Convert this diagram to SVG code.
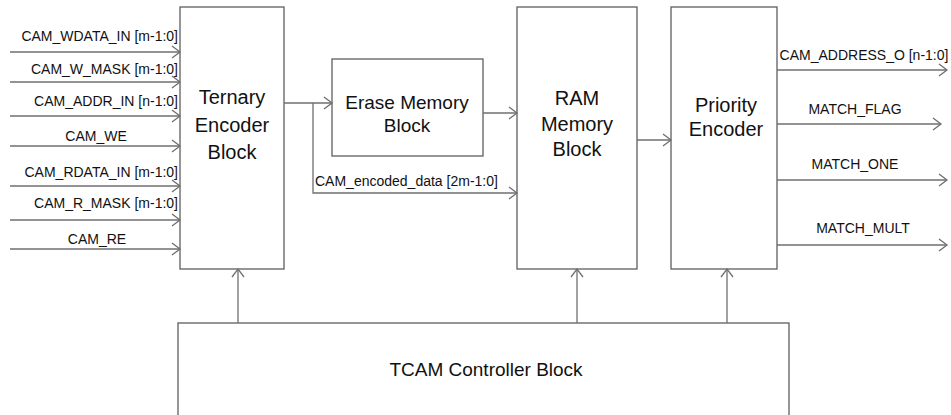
<svg xmlns="http://www.w3.org/2000/svg" width="951" height="415" viewBox="0 0 951 415">
  <style>
    .box { fill: #ffffff; stroke: #5f5f5f; stroke-width: 1.3; }
    .wire { fill: none; stroke: #6f6f6f; stroke-width: 1.3; }
    .arr { marker-end: url(#open); }
    .sig { font-family: "Liberation Sans", Arial, sans-serif; font-size: 14px; fill: #111111; }
    .big { font-family: "Liberation Sans", Arial, sans-serif; font-size: 20px; fill: #111111; text-anchor: middle; }
    .end { text-anchor: end; }
    .mid { text-anchor: middle; }
  </style>
  <defs>
    <marker id="open" viewBox="-10 -8 12 16" refX="0" refY="0" markerWidth="12" markerHeight="16" markerUnits="userSpaceOnUse" orient="auto">
      <path d="M -8,-6 L 0,0 L -8,6" fill="none" stroke="#6f6f6f" stroke-width="1.3"/>
    </marker>
  </defs>
  <rect width="951" height="415" fill="#ffffff"/>

  <g id="ternary-encoder">
    <rect class="box" x="180" y="7" width="104" height="262"/>
    <text class="big" x="232" y="104">Ternary</text>
    <text class="big" x="232" y="132">Encoder</text>
    <text class="big" x="232" y="159">Block</text>
  </g>

  <g id="erase-memory">
    <rect class="box" x="332" y="59" width="151" height="97"/>
    <text class="big" x="407" y="109" style="font-size:19px">Erase Memory</text>
    <text class="big" x="407" y="132" style="font-size:19px">Block</text>
  </g>

  <g id="ram-memory">
    <rect class="box" x="517" y="7" width="120" height="262"/>
    <text class="big" x="577" y="105">RAM</text>
    <text class="big" x="577" y="131">Memory</text>
    <text class="big" x="577" y="156">Block</text>
  </g>

  <g id="priority-encoder">
    <rect class="box" x="671" y="7" width="106" height="262"/>
    <text class="big" x="726" y="112">Priority</text>
    <text class="big" x="726" y="136">Encoder</text>
  </g>

  <g id="tcam-controller">
    <rect class="box" x="178" y="323" width="611" height="120"/>
    <text class="big" x="486" y="376" style="font-size:19px">TCAM Controller Block</text>
  </g>

  <g id="connectors">
    <!-- inputs to the ternary encoder -->
    <line class="wire arr" x1="10" y1="52" x2="180" y2="52"/>
    <line class="wire arr" x1="10" y1="82" x2="180" y2="82"/>
    <line class="wire arr" x1="10" y1="116" x2="180" y2="116"/>
    <line class="wire arr" x1="10" y1="146" x2="180" y2="146"/>
    <line class="wire arr" x1="10" y1="186" x2="180" y2="186"/>
    <line class="wire arr" x1="10" y1="220" x2="180" y2="220"/>
    <line class="wire arr" x1="10" y1="249" x2="180" y2="249"/>
    <text class="sig end" x="178" y="41">CAM_WDATA_IN [m-1:0]</text>
    <text class="sig end" x="178" y="74">CAM_W_MASK [m-1:0]</text>
    <text class="sig end" x="178" y="106">CAM_ADDR_IN [n-1:0]</text>
    <text class="sig mid" x="96" y="141">CAM_WE</text>
    <text class="sig end" x="178" y="177">CAM_RDATA_IN [m-1:0]</text>
    <text class="sig end" x="178" y="208">CAM_R_MASK [m-1:0]</text>
    <text class="sig mid" x="97" y="244">CAM_RE</text>

    <!-- encoded data path -->
    <line class="wire arr" x1="284" y1="103" x2="332" y2="103"/>
    <polyline class="wire arr" points="313,103 313,193 517,193"/>
    <text class="sig" x="315" y="186">CAM_encoded_data [2m-1:0]</text>
    <line class="wire arr" x1="483" y1="113" x2="517" y2="113"/>
    <line class="wire arr" x1="637" y1="140" x2="671" y2="140"/>

    <!-- outputs of the priority encoder -->
    <line class="wire arr" x1="777" y1="70" x2="947" y2="70"/>
    <line class="wire arr" x1="777" y1="124" x2="941" y2="124"/>
    <line class="wire arr" x1="777" y1="180" x2="947" y2="180"/>
    <line class="wire arr" x1="777" y1="245" x2="947" y2="245"/>
    <text class="sig mid" x="864" y="60">CAM_ADDRESS_O [n-1:0]</text>
    <text class="sig mid" x="855" y="114">MATCH_FLAG</text>
    <text class="sig mid" x="855" y="169">MATCH_ONE</text>
    <text class="sig mid" x="863" y="233">MATCH_MULT</text>

    <!-- controller to blocks -->
    <line class="wire arr" x1="238" y1="323" x2="238" y2="269"/>
    <line class="wire arr" x1="577" y1="323" x2="577" y2="269"/>
    <line class="wire arr" x1="727" y1="323" x2="727" y2="269"/>
  </g>
</svg>
